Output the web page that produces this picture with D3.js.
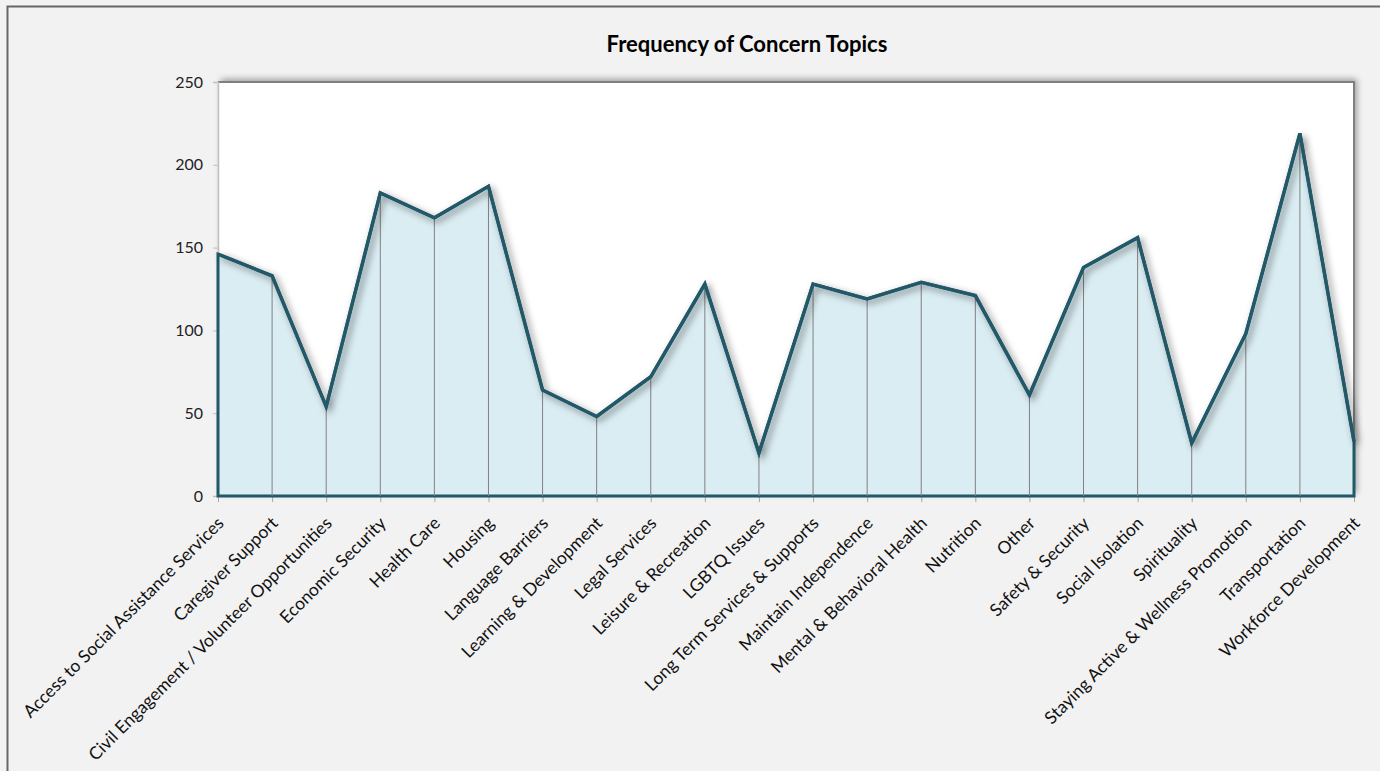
<!DOCTYPE html>
<html>
<head>
<meta charset="utf-8">
<script src="https://cdn.jsdelivr.net/npm/d3@7"></script>
<style>
  html, body { margin: 0; padding: 0; background: #f2f2f2; }
  svg { display: block; font-family: Lato, "Open Sans", sans-serif; }
</style>
</head>
<body>
<div class="js-chart-container"></div>
<script>
  /* ------------------------------------------------------------ *\
      Chart data
  \* ------------------------------------------------------------ */

  var topics = [
    'Access to Social Assistance Services',
    'Caregiver Support',
    'Civil Engagement / Volunteer Opportunities',
    'Economic Security',
    'Health Care',
    'Housing',
    'Language Barriers',
    'Learning & Development',
    'Legal Services',
    'Leisure & Recreation',
    'LGBTQ Issues',
    'Long Term Services & Supports',
    'Maintain Independence',
    'Mental & Behavioral Health',
    'Nutrition',
    'Other',
    'Safety & Security',
    'Social Isolation',
    'Spirituality',
    'Staying Active & Wellness Promotion',
    'Transportation',
    'Workforce Development'
  ];

  var topicCounts = [146, 133, 54, 183, 168, 187, 64, 48, 72, 128, 26,
                     128, 119, 129, 121, 61, 138, 156, 32, 98, 219, 33];

  var countTicks = [0, 50, 100, 150, 200, 250];

  var chartTitle = 'Frequency of Concern Topics';

  (function() {
    'use strict';

    /* ------------------------------------------------------------ *\
        Some layout variables
    \* ------------------------------------------------------------ */

    var width = 1380;
    var height = 771;
    var plotLeft = 218;
    var plotRight = 1354;
    var plotTop = 82;
    var plotBottom = 496;

    var lineColour = '#215968';
    var areaColour = '#daedf3';
    var dropColour = '#808080';

    /* ------------------------------------------------------------ *\
        Scales
    \* ------------------------------------------------------------ */

    var x = d3.scalePoint()
      .domain(topics)
      .range([plotLeft, plotRight]);

    var y = d3.scaleLinear()
      .domain([0, 250])
      .range([plotBottom, plotTop]);

    var points = topics.map(function(t, i) {
      return { topic: t, count: topicCounts[i] };
    });

    /* ------------------------------------------------------------ *\
        Set up the svg and the shadow filters
    \* ------------------------------------------------------------ */

    var svg = d3.select('.js-chart-container')
      .append('svg')
      .attr('width', width)
      .attr('height', height);

    var defs = svg.append('defs');

    defs.append('filter')
      .attr('id', 'lineShadow')
      .attr('x', '-5%').attr('y', '-20%')
      .attr('width', '110%').attr('height', '140%')
      .append('feDropShadow')
      .attr('dx', 3).attr('dy', 3)
      .attr('stdDeviation', 3.5)
      .attr('flood-color', '#000')
      .attr('flood-opacity', 0.5);

    defs.append('filter')
      .attr('id', 'plotShadow')
      .attr('x', '-5%').attr('y', '-10%')
      .attr('width', '110%').attr('height', '120%')
      .append('feDropShadow')
      .attr('dx', 3).attr('dy', -3)
      .attr('stdDeviation', 3)
      .attr('flood-color', '#000')
      .attr('flood-opacity', 0.35);

    /* ------------------------------------------------------------ *\
        Chart area border
    \* ------------------------------------------------------------ */

    svg.append('rect')
      .attr('x', 7.5)
      .attr('y', 6.5)
      .attr('width', width + 10)
      .attr('height', height + 10)
      .attr('fill', '#f2f2f2')
      .attr('stroke', '#666')
      .attr('stroke-width', 2);

    /* ------------------------------------------------------------ *\
        Title
    \* ------------------------------------------------------------ */

    svg.append('text')
      .attr('x', 747)
      .attr('y', 52)
      .attr('text-anchor', 'middle')
      .attr('font-size', 22)
      .attr('font-weight', 'bold')
      .attr('fill', '#000')
      .text(chartTitle);

    /* ------------------------------------------------------------ *\
        Plot area (white with dark top/right border and shadow)
    \* ------------------------------------------------------------ */

    svg.append('rect')
      .attr('x', plotLeft)
      .attr('y', plotTop)
      .attr('width', plotRight - plotLeft)
      .attr('height', plotBottom - plotTop)
      .attr('fill', '#fff')
      .attr('filter', 'url(#plotShadow)');

    svg.append('path')
      .attr('d', 'M' + plotLeft + ',' + plotTop + 'H' + plotRight + 'V' + plotBottom)
      .attr('fill', 'none')
      .attr('stroke', '#7f7f7f')
      .attr('stroke-width', 2);

    /* ------------------------------------------------------------ *\
        Axes
    \* ------------------------------------------------------------ */

    var yAxis = svg.append('g')
      .attr('transform', 'translate(' + plotLeft + ',0)')
      .call(d3.axisLeft(y).tickValues(countTicks).tickSize(5).tickPadding(10));

    yAxis.select('.domain').attr('stroke', '#bfbfbf').attr('stroke-width', 1.5);
    yAxis.selectAll('.tick line').attr('stroke', '#bfbfbf');
    yAxis.selectAll('.tick text')
      .attr('font-family', 'Lato, sans-serif')
      .attr('font-size', 16)
      .attr('fill', '#222');

    var xAxis = svg.append('g')
      .attr('transform', 'translate(0,' + plotBottom + ')')
      .call(d3.axisBottom(x).tickSize(6).tickSizeOuter(0));

    xAxis.select('.domain').remove();
    xAxis.selectAll('.tick line').attr('stroke', '#a6a6a6');
    xAxis.selectAll('.tick text')
      .attr('font-family', 'Lato, sans-serif')
      .attr('font-size', 17.5)
      .attr('fill', '#111')
      .attr('text-anchor', 'end')
      .attr('y', 0)
      .attr('dy', '0.35em')
      .attr('transform', 'translate(2,24) rotate(-45)');

    /* ------------------------------------------------------------ *\
        Area, drop lines and the outline
    \* ------------------------------------------------------------ */

    var area = d3.area()
      .x(function(d) { return x(d.topic); })
      .y0(y(0))
      .y1(function(d) { return y(d.count); });

    var line = d3.line()
      .x(function(d) { return x(d.topic); })
      .y(function(d) { return y(d.count); });

    svg.append('path')
      .datum(points)
      .attr('d', area)
      .attr('fill', areaColour)
      .attr('stroke', lineColour)
      .attr('stroke-width', 3)
      .attr('stroke-linejoin', 'miter');

    svg.append('g')
      .selectAll('line')
      .data(points.slice(1, -1))
      .join('line')
      .attr('x1', function(d) { return x(d.topic); })
      .attr('x2', function(d) { return x(d.topic); })
      .attr('y1', function(d) { return y(d.count); })
      .attr('y2', y(0))
      .attr('stroke', dropColour)
      .attr('stroke-width', 1);

    svg.append('path')
      .datum(points)
      .attr('d', line)
      .attr('fill', 'none')
      .attr('stroke', lineColour)
      .attr('stroke-width', 3.5)
      .attr('stroke-linejoin', 'miter')
      .attr('filter', 'url(#lineShadow)');
  })();
</script>
</body>
</html>
